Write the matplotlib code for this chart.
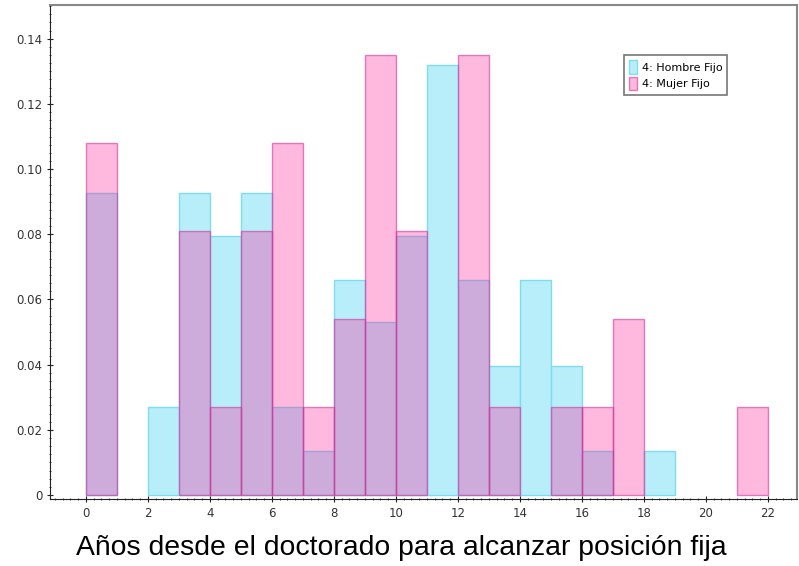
import numpy as np
import matplotlib
matplotlib.use('agg')
import matplotlib.pyplot as plt
from matplotlib.ticker import MultipleLocator, FixedLocator, FuncFormatter

# bin left edges (years since PhD), width 1
bins = np.arange(0, 22)

hombre = [0.0926, 0, 0.0270, 0.0926, 0.0794, 0.0926, 0.0270, 0.0135, 0.0660, 0.0530,
          0.0794, 0.1320, 0.0660, 0.0397, 0.0660, 0.0397, 0.0135, 0, 0.0135, 0, 0, 0]
mujer = [0.1081, 0, 0, 0.0811, 0.0270, 0.0811, 0.1081, 0.0270, 0.0541, 0.1351,
         0.0811, 0, 0.1351, 0.0270, 0, 0.0270, 0.0270, 0.0541, 0, 0, 0, 0.0270]

label_h = '4: Hombre Fijo'
label_m = '4: Mujer Fijo'
xlabel = 'Años desde el doctorado para alcanzar posición fija'

hombre = np.array(hombre)
mujer = np.array(mujer)
mh = hombre > 0
mm = mujer > 0

fig = plt.figure(figsize=(7.99, 5.66), dpi=100)
ax = fig.add_axes([0.0626, 0.1184, 0.935, 0.873])

ax.bar(bins[mh], hombre[mh], width=1, align='edge', color='#b8eefa',
       edgecolor='#7fdcef', linewidth=1, label=label_h)
ax.bar(bins[mm], mujer[mm], width=1, align='edge', color=(1.0, 0.08, 0.58, 0.3),
       edgecolor=(0.82, 0.2, 0.6, 0.6), linewidth=1, label=label_m)

ax.set_xlim(-1.16, 22.94)
ax.set_ylim(-0.00123, 0.1504)

ax.xaxis.set_major_locator(FixedLocator(np.arange(0, 23, 2)))
ax.xaxis.set_minor_locator(MultipleLocator(0.25))
ax.yaxis.set_major_locator(FixedLocator(np.arange(0, 0.141, 0.02)))
ax.yaxis.set_minor_locator(MultipleLocator(0.0025))
ax.yaxis.set_major_formatter(FuncFormatter(lambda v, p: '0' if abs(v) < 1e-9 else '%.2f' % v))

ax.tick_params(which='major', length=4, width=0.8, direction='inout',
               labelsize=8.5, labelcolor='#333333', color='#222222')
ax.tick_params(which='minor', length=2, width=0.6, direction='inout', color='#222222')

for s in ['top', 'right']:
    ax.spines[s].set_color('#888888')
    ax.spines[s].set_linewidth(1.5)
for s in ['left', 'bottom']:
    ax.spines[s].set_color('#222222')
    ax.spines[s].set_linewidth(0.8)

leg = ax.legend(loc='upper right', bbox_to_anchor=(0.914, 0.909), fontsize=8,
                handlelength=0.7, handleheight=1.5, handletextpad=0.4,
                borderpad=0.45, labelspacing=0.25, fancybox=False, framealpha=1)
leg.get_frame().set_edgecolor('#777777')
leg.get_frame().set_linewidth(1.2)

ax.set_xlabel(xlabel, fontsize=20.4, family='Liberation Sans')
ax.xaxis.set_label_coords(0.47, -0.073)

fig.savefig('out.png', dpi=100)
